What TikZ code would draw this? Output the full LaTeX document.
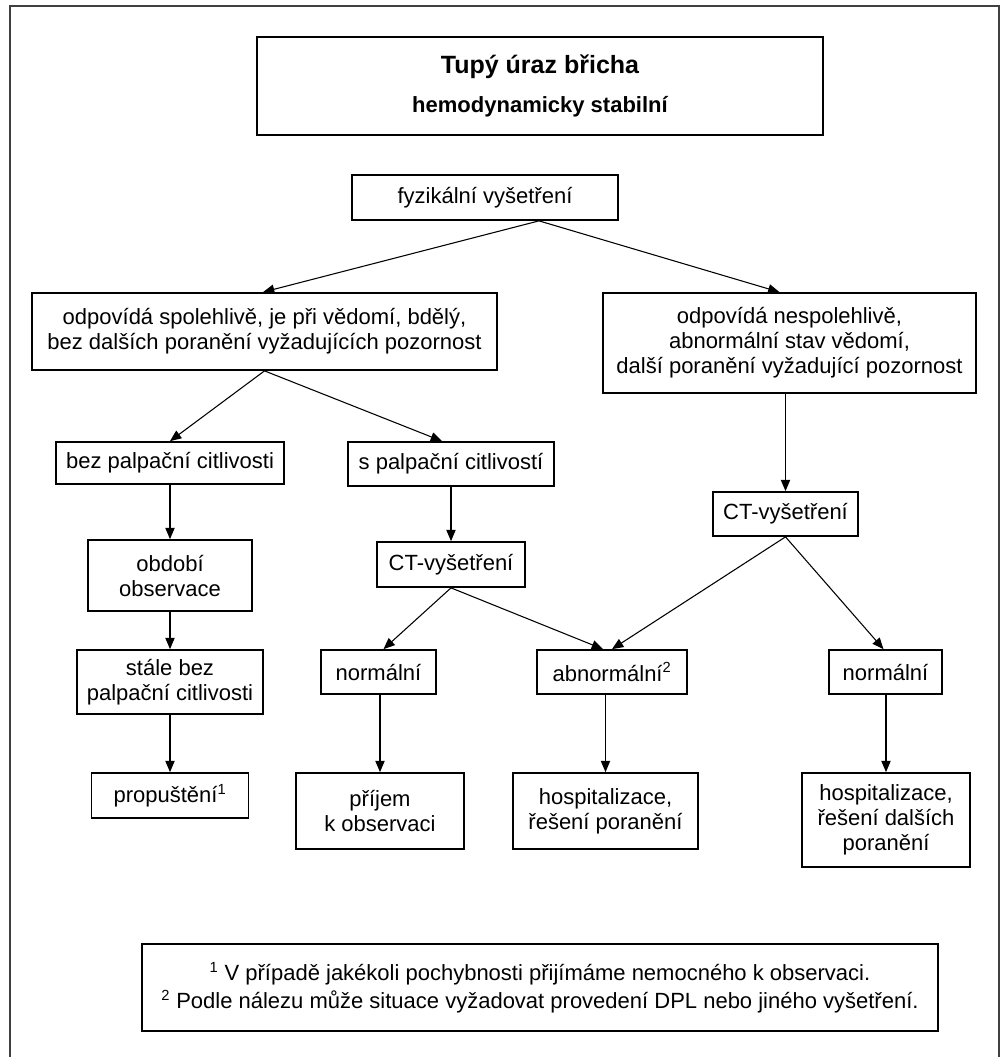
\documentclass[tikz,border=0pt]{standalone}
\usepackage{fontspec}
\setmainfont{Liberation Sans}
\usepackage{tikz}
\usetikzlibrary{arrows.meta, positioning, calc}
\definecolor{framegray}{HTML}{404040}

\newcommand{\boxsize}{\fontsize{16.5}{18.75}\selectfont}
\newcommand{\titlesize}{\fontsize{18.75}{22}\selectfont}
\newcommand{\fnmark}[1]{\textsuperscript{\fontsize{11}{11}\selectfont #1}}

\tikzset{
  box/.style={draw, line width=1.3pt, align=center, inner sep=0pt, font=\boxsize},
  sz/.style 2 args={minimum width=#1*0.75pt, minimum height=#2*0.75pt},
  arr/.style={-{Triangle[length=8.5pt, width=7pt]}, line width=0.8pt},
}

\begin{document}
\begin{tikzpicture}[x=0.75pt, y=-0.75pt]
  \useasboundingbox (0,0) rectangle (1005,1057);

  % Outer frame (open at the bottom)
  \draw[framegray, line width=1.1pt] (10,1057) -- (10,6) -- (999,6) -- (999,1057);

  % Title
  \node[box, sz={566}{98}, font=\boxsize\bfseries] (title) at (540,86)
    {{\titlesize Tupý úraz břicha}\\[10.5pt]hemodynamicky stabilní};

  % First levels
  \node[box, sz={266}{45}] (fyz) at (485,197.5) {fyzikální vyšetření};
  \node[box, sz={465}{77}] (spol) at (264.5,331.5)
    {odpovídá spolehlivě, je při vědomí, bdělý,\\bez dalších poranění vyžadujících pozornost};
  \node[box, sz={373}{100}] (nespol) at (789.5,343)
    {odpovídá nespolehlivě,\\abnormální stav vědomí,\\další poranění vyžadující pozornost};

  % Left branch
  \node[box, sz={228}{42}] (bez) at (170,463) {bez palpační citlivosti};
  \node[box, sz={164}{71}] (obd) at (170,575.5) {období\\observace};
  \node[box, sz={186}{64}] (stale) at (170,682) {stále bez\\palpační citlivosti};
  \node[box, sz={157}{45}] (prop) at (170,795.5) {propuštění\fnmark{1}};

  % Middle branch
  \node[box, sz={206}{44}] (spalp) at (451,464) {s palpační citlivostí};
  \node[box, sz={148}{45}] (ctL) at (451,564.5) {CT-vyšetření};
  \node[box, sz={115}{44}] (normL) at (378.5,672) {normální};
  \node[box, sz={150}{44}] (abn) at (612,672) {abnormální\fnmark{2}};
  \node[box, sz={168}{76}] (prijem) at (380,811) {příjem\\k observaci};
  \node[box, sz={185}{76}] (hospA) at (605.5,811) {hospitalizace,\\řešení poranění};

  % Right branch
  \node[box, sz={145}{44}] (ctR) at (785.5,514) {CT-vyšetření};
  \node[box, sz={113}{44}] (normR) at (885.5,672) {normální};
  \node[box, sz={168}{94}] (hospB) at (886,820) {hospitalizace,\\řešení dalších\\poranění};

  % Footnotes
  \node[box, sz={796}{87}] (notes) at (540,987.5)
    {\fnmark{1} V případě jakékoli pochybnosti přijímáme nemocného k observaci.\\[2.25pt]
     \fnmark{2} Podle nálezu může situace vyžadovat provedení DPL nebo jiného vyšetření.};

  % Connectors
  \draw[arr] ($(fyz.south)+(54,0)$) -- ($(spol.north)+(-1.5,0)$);
  \draw[arr] ($(fyz.south)+(54,0)$) -- ($(nespol.north)+(-10,0)$);
  \draw[arr] (spol.south) -- (bez.north);
  \draw[arr] (spol.south) -- ($(spalp.north)+(-9,0)$);
  \draw[arr] (nespol.south -| ctR.north) -- (ctR.north);
  \draw[arr] (bez.south) -- (obd.north);
  \draw[arr] (obd.south) -- (stale.north);
  \draw[arr] (stale.south) -- (prop.north);
  \draw[arr] (spalp.south) -- (ctL.north);
  \draw[arr] (ctL.south) -- ($(normL.north)+(5,0)$);
  \draw[arr] (ctL.south) -- ($(abn.north)+(-9,0)$);
  \draw[arr] (ctR.south) -- (abn.north);
  \draw[arr] (ctR.south) -- ($(normR.north)+(-2,0)$);
  \draw[arr] (normL.south -| prijem.north) -- (prijem.north);
  \draw[arr] (abn.south -| hospA.north) -- (hospA.north);
  \draw[arr] (normR.south -| hospB.north) -- (hospB.north);
\end{tikzpicture}
\end{document}
